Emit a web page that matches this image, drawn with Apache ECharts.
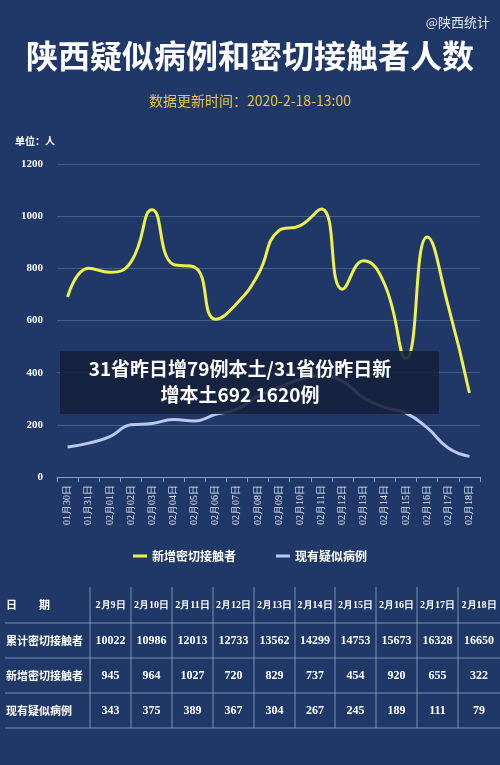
<!DOCTYPE html>
<html><head><meta charset="utf-8">
<script src="https://cdn.jsdelivr.net/npm/echarts@6/dist/echarts.min.js"></script>
<style>html,body{margin:0;padding:0;background:#1f3868}#c{width:500px;height:765px}</style>
</head><body><div id="c"></div>
<script>
const categories=['01月30日','01月31日','02月01日','02月02日','02月03日','02月04日','02月05日','02月06日','02月07日','02月08日','02月09日','02月10日','02月11日','02月12日','02月13日','02月14日','02月15日','02月16日','02月17日','02月18日'];
const newContacts=[690,800,785,825,1025,815,805,605,665,775,945,964,1027,720,829,737,454,920,655,322];
const suspected=[115,130,155,200,205,220,215,240,260,310,343,375,389,367,304,267,245,189,111,79];
const tableDates=['2月9日','2月10日','2月11日','2月12日','2月13日','2月14日','2月15日','2月16日','2月17日','2月18日'];
const rowNames=['日　　期','累计密切接触者','新增密切接触者','现有疑似病例'];
const cumContacts=[10022,10986,12013,12733,13562,14299,14753,15673,16328,16650];
const tblNew=[945,964,1027,720,829,737,454,920,655,322];
const tblSusp=[343,375,389,367,304,267,245,189,111,79];

const FONT='"Noto Sans CJK SC", sans-serif';
const SERIF='"Liberation Serif", serif';
const g=[];
const rows=[tableDates,cumContacts,tblNew,tblSusp];
const rowY=[587,623,658,693,728];
const colX=[5,90,131,172,213,254,295,335,376,417,458,500];
const lineC='rgba(200,215,240,0.55)';
for(let i=1;i<rowY.length;i++) g.push({type:'line',shape:{x1:5,y1:rowY[i],x2:500,y2:rowY[i]},style:{stroke:lineC,lineWidth:1}});
for(let j=1;j<colX.length-1;j++) g.push({type:'line',shape:{x1:colX[j],y1:rowY[0],x2:colX[j],y2:rowY[4]},style:{stroke:lineC,lineWidth:1}});
rows.forEach((r,i)=>{
  const cy=(rowY[i]+rowY[i+1])/2;
  g.push({type:'text',x:6,y:cy,style:{text:rowNames[i],fill:'#fff',font:'bold 11px '+FONT,textVerticalAlign:'middle'}});
  r.forEach((v,j)=>{
    g.push({type:'text',x:(colX[j+1]+colX[j+2])/2,y:cy,style:{text:String(v),fill:'#fff',font:(i==0?'bold 10px ':'bold 12px ')+SERIF,textAlign:'center',textVerticalAlign:'middle'}});
  });
});
g.push({type:'rect',shape:{x:60,y:351,width:379,height:63},style:{fill:'rgba(22,32,58,0.88)'},z:100});
g.push({type:'text',x:240,y:369,style:{text:'31省昨日增79例本土/31省份昨日新',fill:'#fff',font:'bold 19px '+FONT,textAlign:'center',textVerticalAlign:'middle'},z:101});
g.push({type:'text',x:240,y:395,style:{text:'增本土692 1620例',fill:'#fff',font:'bold 19px '+FONT,textAlign:'center',textVerticalAlign:'middle'},z:101});
g.push({type:'text',x:15,y:141,style:{text:'单位：人',fill:'#fff',font:'bold 10px '+FONT,textVerticalAlign:'middle'}});
g.push({type:'text',x:490,y:22,style:{text:'@陕西统计',fill:'#e6e9f0',font:'13px '+FONT,textAlign:'right',textVerticalAlign:'middle'}});

const chart=echarts.init(document.getElementById('c'));
chart.setOption({
  backgroundColor:'#1f3868',
  title:{text:'陕西疑似病例和密切接触者人数',left:'center',top:35,textStyle:{color:'#fff',fontSize:32,fontWeight:'bold',fontFamily:FONT},
    subtext:'数据更新时间：2020-2-18-13:00',itemGap:22,subtextStyle:{color:'#e8c54a',fontSize:14,fontFamily:FONT}},
  grid:{left:57,right:20,top:164,bottom:288},
  legend:{bottom:198,itemWidth:14,itemHeight:3,itemGap:40,icon:'rect',textStyle:{color:'#fff',fontWeight:'bold',fontSize:12,fontFamily:FONT},
    data:['新增密切接触者','现有疑似病例']},
  xAxis:{type:'category',data:categories,axisLine:{lineStyle:{color:'#8aa0c8'}},axisTick:{show:true,lineStyle:{color:'#8aa0c8'}},
    axisLabel:{rotate:90,interval:0,color:'#dfe5f0',fontSize:10,fontFamily:SERIF}},
  yAxis:{type:'value',min:0,max:1200,interval:200,axisLine:{show:false},axisLabel:{color:'#fff',fontWeight:'bold',fontSize:11,fontFamily:SERIF,margin:14,formatter:v=>String(v)},
    splitLine:{lineStyle:{color:'rgba(150,170,210,0.35)'}}},
  series:[
    {name:'新增密切接触者',type:'line',smooth:0.5,data:newContacts,symbol:'none',lineStyle:{color:'#eef04e',width:3},itemStyle:{color:'#eef04e'}},
    {name:'现有疑似病例',type:'line',smooth:0.5,data:suspected,symbol:'none',lineStyle:{color:'#b9c9ee',width:3},itemStyle:{color:'#b9c9ee'}}
  ],
  graphic:g
});
</script></body></html>
